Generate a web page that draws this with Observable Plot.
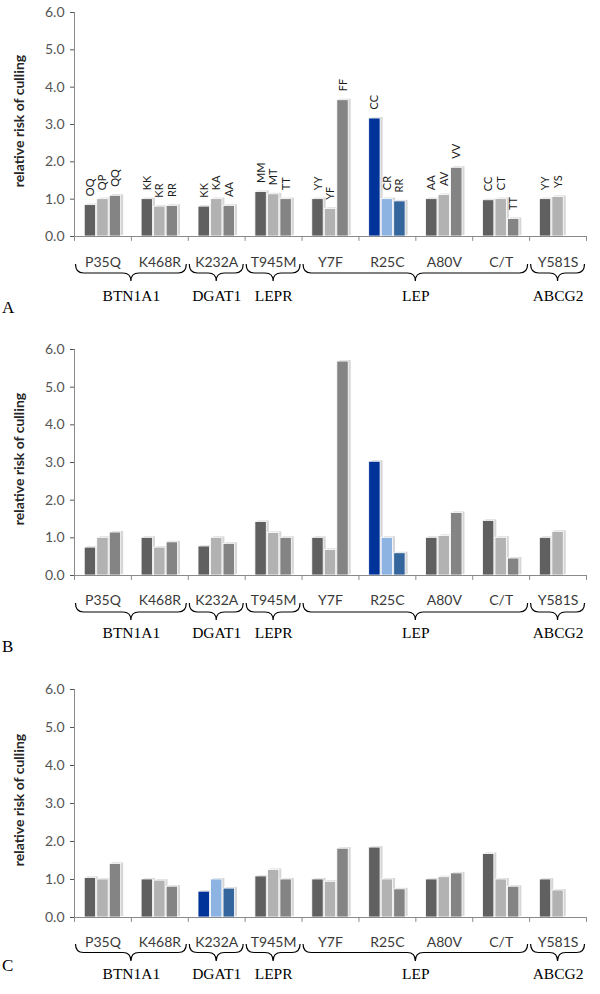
<!DOCTYPE html>
<html>
<head>
<meta charset="utf-8">
<script src="https://cdn.jsdelivr.net/npm/d3@7"></script>
<script src="https://cdn.jsdelivr.net/npm/@observablehq/plot@0.6"></script>
<style>
  html, body { margin: 0; padding: 0; background: #fff; }
  #chart svg { display: block; }
</style>
</head>
<body>
<div id="chart"></div>
<script>
// ---------- data ----------
const categories = ["P35Q", "K468R", "K232A", "T945M", "Y7F", "R25C", "A80V", "C/T", "Y581S"];
const geneNames = ["BTN1A1", "DGAT1", "LEPR", "LEP", "ABCG2"];
const geneSizes = [2, 1, 1, 4, 1];
const genotypes = [
  ["OQ", "QP", "QQ"], ["KK", "KR", "RR"], ["KK", "KA", "AA"], ["MM", "MT", "TT"],
  ["YY", "YF", "FF"], ["CC", "CR", "RR"], ["AA", "AV", "VV"], ["CC", "CT", "TT"], ["YY", "YS"]
];
const valuesA = [
  [0.84, 1.0, 1.09], [1.0, 0.8, 0.82], [0.8, 1.0, 0.82], [1.19, 1.13, 1.0],
  [1.0, 0.74, 3.65], [3.16, 1.0, 0.94], [1.0, 1.11, 1.84], [0.97, 1.0, 0.47], [1.0, 1.06]
];
const valuesB = [
  [0.74, 1.0, 1.14], [1.0, 0.74, 0.88], [0.77, 1.0, 0.84], [1.42, 1.13, 1.0],
  [1.0, 0.68, 5.68], [3.02, 1.0, 0.59], [1.0, 1.05, 1.66], [1.45, 1.0, 0.45], [1.0, 1.16]
];
const valuesC = [
  [1.04, 1.0, 1.41], [1.0, 0.97, 0.81], [0.68, 1.0, 0.76], [1.08, 1.25, 1.0],
  [1.0, 0.94, 1.81], [1.84, 1.0, 0.74], [1.0, 1.06, 1.16], [1.67, 1.0, 0.81], [1.0, 0.71]
];
const highlightA = "R25C";
const highlightB = "R25C";
const highlightC = "K232A";
const panelLetters = ["A", "B", "C"];
const yTicks = [0, 1, 2, 3, 4, 5, 6];
const yTitle = "relative risk of culling";

// ---------- styles ----------
const greyColors = ["#606060", "#b2b2b2", "#848484"];
const blueColors = ["#003399", "#8db3e2", "#34659c"];

function buildRows(values, highlight) {
  const rows = [];
  values.forEach((vals, i) => {
    vals.forEach((v, j) => {
      const x1 = i + 0.18 + j * 0.22;
      rows.push({
        cat: categories[i], i, j, value: v, label: genotypes[i][j],
        x1, x2: x1 + 0.2,
        color: categories[i] === highlight ? blueColors[j] : greyColors[j]
      });
    });
  });
  return rows;
}

function buildGenes() {
  let start = 0;
  return geneNames.map((name, k) => {
    const g = {name, start, end: start + geneSizes[k]};
    start += geneSizes[k];
    return g;
  });
}

function panel(values, highlight, letter, cfg, showLabels) {
  const rows = buildRows(values, highlight);
  const genes = buildGenes();
  const marks = [
    Plot.rect(rows, {x1: "x1", x2: "x2", y1: 0, y2: "value", fill: "#d6d6d6", dx: 2.5, dy: -1}),
    Plot.rect(rows, {x1: "x1", x2: "x2", y1: 0, y2: "value", fill: "color", stroke: "#ffffff", strokeWidth: 0.8}),
    Plot.ruleY([0], {stroke: "#8a8a8a"}),
    Plot.ruleX([0], {y1: 0, y2: yTicks[yTicks.length - 1], stroke: "#8a8a8a"}),
    Plot.ruleX(d3.range(categories.length + 1), {y1: 0, y2: -0.13, stroke: "#8a8a8a"}),
    Plot.text(categories, {x: (d, i) => i + 0.5, y: 0, dy: cfg.catDy, text: d => d,
      fontFamily: "Lato", fontSize: 14, fill: "#3a3a3a"}),
    Plot.text(genes, {x: d => (d.start + d.end) / 2, y: 0, dy: cfg.geneDy, text: "name",
      fontFamily: "Liberation Serif", fontSize: 15.5, fill: "#000"})
  ];
  if (showLabels) {
    marks.push(Plot.text(rows, {x: d => (d.x1 + d.x2) / 2, y: "value", text: "label",
      rotate: -90, textAnchor: "start", dy: -9, fontFamily: "Lato", fontSize: 11, fill: "#1a1a1a"}));
  }
  const plot = Plot.plot({
    width: 600,
    height: cfg.height,
    marginTop: cfg.marginTop,
    marginBottom: cfg.marginBottom,
    marginLeft: 74,
    marginRight: 14,
    style: {fontFamily: "Lato", fontSize: "14px", color: "#555555", background: "#fff"},
    color: {type: "identity"},
    x: {domain: [0, categories.length], axis: null},
    y: {domain: [0, 6], ticks: yTicks, tickFormat: d => d.toFixed(1), tickSize: 4, tickPadding: 6, label: null},
    marks
  });

  const sxo = plot.scale("x"), syo = plot.scale("y");
  const sx = d3.scaleLinear().domain(sxo.domain).range(sxo.range);
  const sy = d3.scaleLinear().domain(syo.domain).range(syo.range);
  const svg = d3.select(plot);
  const y0 = sy(0);

  // braces under the categories
  const top = y0 + cfg.braceTop, mid = y0 + cfg.braceMid, tip = y0 + cfg.braceTip;
  const r = 8;
  const bg = svg.append("g").attr("fill", "none").attr("stroke", "#000").attr("stroke-width", 1.2);
  genes.forEach(g => {
    const xa = sx(g.start) + 1.5, xb = sx(g.end) - 1.5, xm = (xa + xb) / 2;
    const p = d3.path();
    p.moveTo(xa, top);
    p.quadraticCurveTo(xa, mid, xa + r, mid);
    p.lineTo(xm - r, mid);
    p.quadraticCurveTo(xm, mid, xm, tip);
    p.quadraticCurveTo(xm, mid, xm + r, mid);
    p.lineTo(xb - r, mid);
    p.quadraticCurveTo(xb, mid, xb, top);
    bg.append("path").attr("d", p.toString());
  });

  // y axis title
  const yc = (sy(0) + sy(6)) / 2 - 3;
  svg.append("text")
    .attr("transform", `translate(18,${yc}) rotate(-90)`)
    .attr("text-anchor", "middle").attr("dominant-baseline", "central")
    .attr("font-family", "Lato").attr("font-weight", "bold").attr("font-size", 14)
    .attr("fill", "#262626").text(yTitle);

  // panel letter
  svg.append("text")
    .attr("x", 2).attr("y", y0 + cfg.letterDy)
    .attr("text-anchor", "start")
    .attr("dominant-baseline", "central")
    .attr("font-family", "Liberation Serif").attr("font-size", 17)
    .attr("fill", "#000").text(letter);

  return plot;
}

const host = document.getElementById("chart");
host.appendChild(panel(valuesA, highlightA, panelLetters[0],
  {height: 325, marginTop: 12, marginBottom: 89, catDy: 26, geneDy: 60, braceTop: 28, braceMid: 37, braceTip: 45, letterDy: 71}, true));
host.appendChild(panel(valuesB, highlightB, panelLetters[1],
  {height: 335, marginTop: 24, marginBottom: 85, catDy: 25.5, geneDy: 58, braceTop: 28, braceMid: 37, braceTip: 45, letterDy: 71}, false));
host.appendChild(panel(valuesC, highlightC, panelLetters[2],
  {height: 334, marginTop: 29, marginBottom: 77, catDy: 25, geneDy: 57, braceTop: 27, braceMid: 35.5, braceTip: 44, letterDy: 48}, false));
</script>
</body>
</html>
